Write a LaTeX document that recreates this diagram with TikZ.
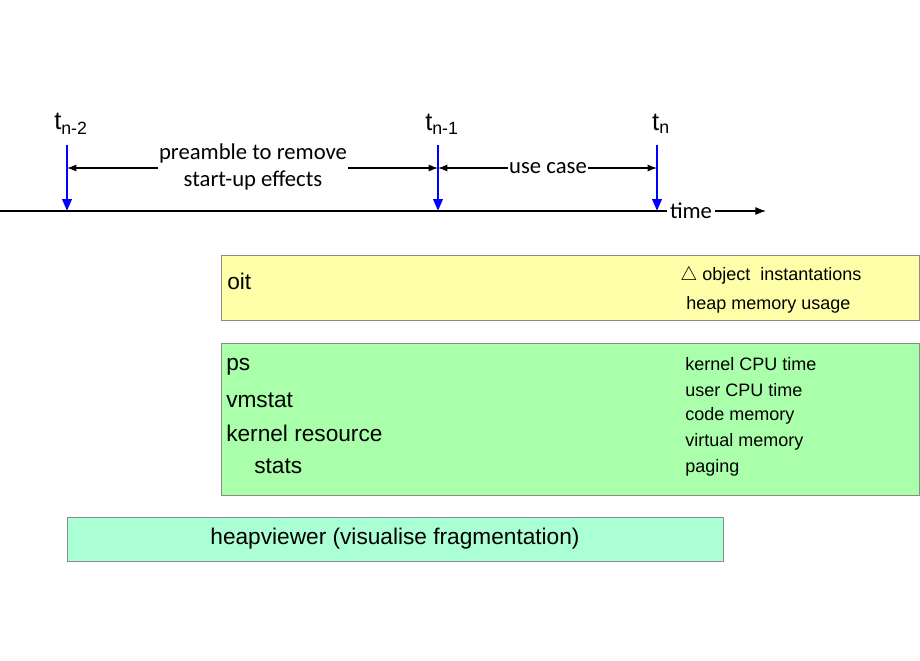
\documentclass[tikz,border=0pt]{standalone}
\usepackage{fontspec}
\setmainfont{Liberation Sans}
\newfontfamily\calfont{Carlito}
\usetikzlibrary{arrows.meta}
\definecolor{oitYellow}{RGB}{255,255,170}
\definecolor{psGreen}{RGB}{170,255,170}
\definecolor{hvMint}{RGB}{170,255,212}
\definecolor{markBlue}{RGB}{0,0,255}
\tikzset{
  box/.style={draw=black!45, line width=0.6pt},
  tmark/.style={draw=markBlue, line width=2pt, -{Triangle[length=9pt,width=7pt]}},
  span/.style={line width=0.8pt, {Latex[length=7pt]}-{Latex[length=7pt]}},
  tlabel/.style={font=\calfont\fontsize{17}{20}\selectfont, inner sep=1pt},
  big/.style={font=\fontsize{17}{20}\selectfont, anchor=west, inner sep=0pt},
  small/.style={font=\fontsize{13.5}{16}\selectfont, anchor=west, inner sep=0pt}
}
\begin{document}
\begin{tikzpicture}[x=0.75pt,y=-0.75pt]
\useasboundingbox (0,0) rectangle (920,660);
% time axis
\coordinate (axis start) at (0,211);
\coordinate (axis end) at (766,211);
\draw[line width=0.8pt,-{Latex[length=8pt]}] (axis start) -- (axis end);
\node[tlabel, fill=white, inner sep=2pt] (time) at (691,211) {time};
% time marks
\foreach \name/\x/\lab in {a/67/{t\textsubscript{n-2}}, b/438/{t\textsubscript{n-1}}, c/657/{t\textsubscript{n}}} {
  \coordinate (\name top) at (\x,145);
  \coordinate (\name bot) at (\x,211);
  \draw[tmark] (\name top) -- (\name bot);
  \node[tlabel, font=\fontsize{19}{22}\selectfont] (\name lab) at (\x+4,124) {\lab};
}
\coordinate (a mid) at (67,168);
\coordinate (b mid) at (438,168);
\coordinate (c mid) at (657,168);
\draw[span] (a mid) -- (b mid);
\draw[span] (b mid) -- (c mid);
\node[tlabel, fill=white, align=center] (preamble) at (253,167) {preamble to remove\\start-up effects};
\node[tlabel, fill=white] (usecase) at (548,168) {use case};
% oit
\draw[box, fill=oitYellow] (221,255) rectangle (919,320);
\node[big] (oit) at (227,281) {oit};
\node[small] (oit1) at (680,276) {$\bigtriangleup$\ object\ \ instantations};
\node[small] (oit2) at (686,305) {heap memory usage};
% system tools
\draw[box, fill=psGreen] (221,343) rectangle (919,495);
\foreach \y/\t in {367/ps, 400/vmstat, 433/kernel resource, 466/\hspace{21pt}stats}
  \node[big] at (226,\y) {\t};
\foreach \y/\t in {364/kernel CPU time, 390/user CPU time, 416/code memory, 442/virtual memory, 468/paging}
  \node[small] at (685,\y) {\t};
% heapviewer
\draw[box, fill=hvMint] (67,517) rectangle (723,561);
\node[font=\fontsize{17}{20}\selectfont] (heapviewer) at (395,539) {heapviewer (visualise fragmentation)};
\end{tikzpicture}
\end{document}
